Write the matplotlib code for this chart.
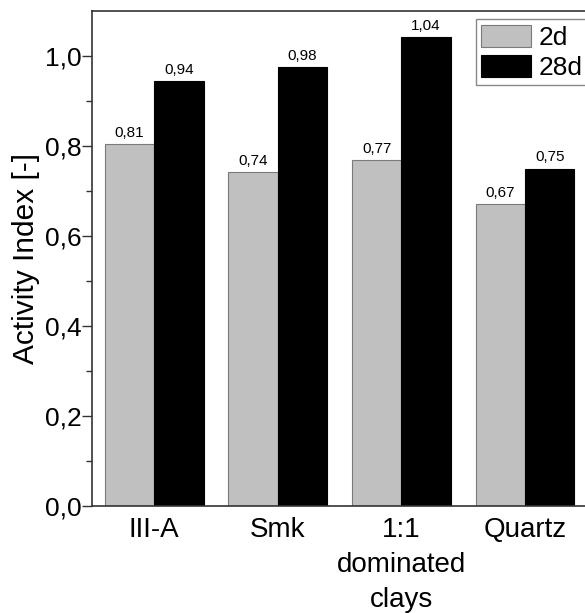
import numpy as np
import matplotlib
matplotlib.use('Agg')
import matplotlib.pyplot as plt

plt.rcParams['font.family'] = ['Liberation Sans', 'DejaVu Sans']

# data
categories = ['III-A', 'Smk', '1:1\ndominated\nclays', 'Quartz']
val_2d = [0.804, 0.742, 0.768, 0.671]
val_28d = [0.944, 0.976, 1.043, 0.750]
lab_2d = ['0,81', '0,74', '0,77', '0,67']
lab_28d = ['0,94', '0,98', '1,04', '0,75']

fig = plt.figure(figsize=(5.85, 6.13), dpi=100)
ax = fig.add_axes([0.158, 0.1746, 0.845, 0.8074])

x = np.arange(len(categories))
w = 0.4
b1 = ax.bar(x - w / 2, val_2d, w, color='#c0c0c0', edgecolor='#7a7a7a', linewidth=0.8, label='2d')
b2 = ax.bar(x + w / 2, val_28d, w, color='black', edgecolor='black', linewidth=0.8, label='28d')

for rect, t in zip(b1, lab_2d):
    ax.annotate(t, (rect.get_x() + rect.get_width() / 2, rect.get_height()),
                xytext=(0, 3), textcoords='offset points', ha='center', va='bottom', fontsize=11)
for rect, t in zip(b2, lab_28d):
    ax.annotate(t, (rect.get_x() + rect.get_width() / 2, rect.get_height()),
                xytext=(0, 3), textcoords='offset points', ha='center', va='bottom', fontsize=11)

ax.set_xlim(-0.5, 3.5)
ax.set_ylim(0, 1.1)
ax.set_yticks(np.arange(0, 1.01, 0.2))
ax.set_yticks(np.arange(0.1, 1.1, 0.2), minor=True)
ax.set_yticklabels([f'{v:.1f}'.replace('.', ',') for v in np.arange(0, 1.01, 0.2)])
ax.set_xticks(x)
ax.set_xticklabels(categories, fontsize=20, linespacing=1.45)
ax.tick_params(axis='x', length=0, pad=8)
ax.tick_params(axis='y', which='major', length=7, width=1, labelsize=19, pad=1, color='#333333')
ax.tick_params(axis='y', which='minor', length=4, width=1, color='#333333')
ax.set_ylabel('Activity Index [-]', fontsize=21.5, labelpad=3)

for s in ax.spines.values():
    s.set_color('#333333')
    s.set_linewidth(1.2)

leg = ax.legend(loc='upper right', bbox_to_anchor=(1.003, 0.983), fontsize=19, fancybox=False,
                edgecolor='#888888', framealpha=1, handlelength=1.9, handleheight=0.9,
                handletextpad=0.3, labelspacing=0.2, borderpad=0.2, borderaxespad=0.0)
leg.get_frame().set_linewidth(1.0)

fig.savefig('out.png', dpi=100)
